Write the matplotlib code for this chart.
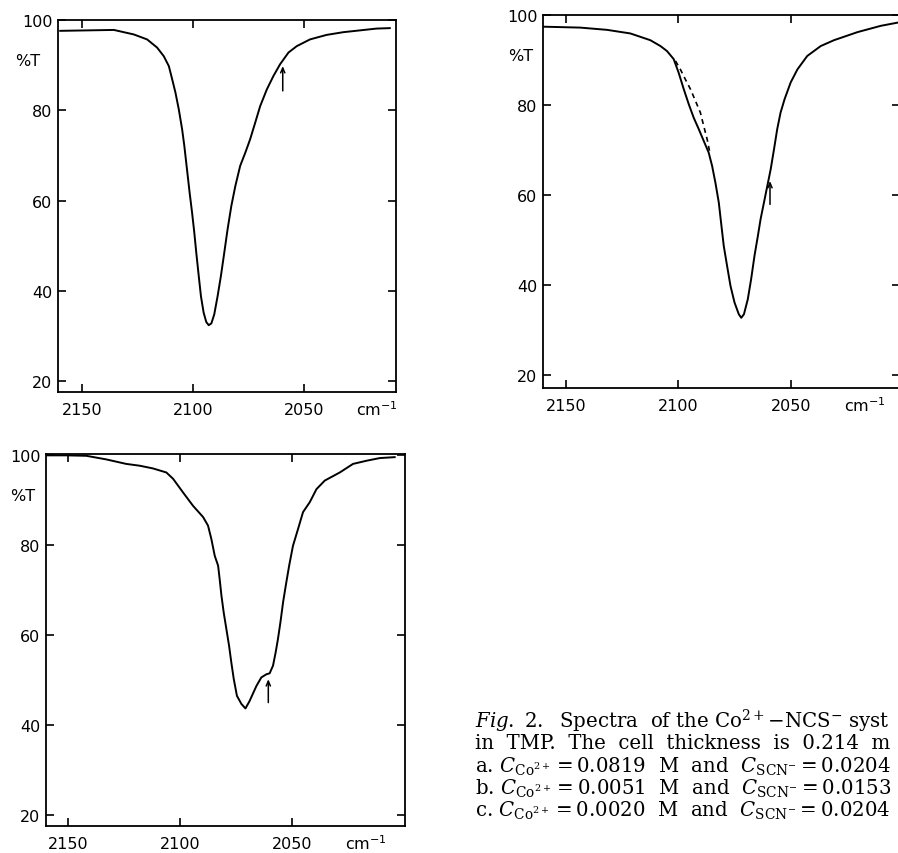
import matplotlib
matplotlib.use("Agg")
import matplotlib.pyplot as plt

# ---------------- data ----------------
xticks = [2150, 2100, 2050]
yticks = [20, 40, 60, 80, 100]

# spectrum a
wn_a = [2160.0, 2135.8, 2126.8, 2120.8, 2116.3, 2113.3, 2111.0, 2109.5, 2108.0, 2106.5,
        2105.0, 2104.0, 2102.8, 2101.6, 2100.5, 2099.5, 2098.6, 2097.5, 2096.5, 2095.3,
        2094.1, 2093.0, 2091.8, 2090.5, 2089.0, 2087.5, 2086.0, 2084.5, 2082.8, 2081.0,
        2078.8, 2076.5, 2074.3, 2072.0, 2069.8, 2066.8, 2063.8, 2060.8, 2057.0, 2053.3,
        2047.3, 2039.8, 2032.3, 2024.8, 2017.3, 2011.3]
t_a = [97.6, 97.8, 96.8, 95.7, 93.9, 92.0, 89.8, 86.9, 83.9, 80.2,
       75.8, 72.1, 66.9, 61.7, 57.3, 52.9, 48.4, 43.3, 38.8, 35.2,
       33.1, 32.4, 32.8, 34.8, 38.8, 43.3, 48.4, 53.6, 58.8, 63.2,
       67.7, 70.6, 73.6, 77.3, 80.9, 84.6, 87.6, 90.2, 92.8, 94.2,
       95.7, 96.7, 97.3, 97.7, 98.1, 98.2]
arrow_a = (2059.6, 84.3, 89.8)

# spectrum b
wn_b = [2160.1, 2143.75, 2131.8, 2121.4, 2112.5, 2108.0, 2105.1, 2102.1, 2099.9, 2097.6,
        2095.4, 2093.2, 2090.9, 2088.7, 2086.5, 2085.0, 2083.5, 2082.0, 2081.0, 2079.8,
        2078.3, 2076.8, 2075.0, 2073.1, 2072.0, 2070.8, 2069.1, 2067.6, 2066.1, 2064.6,
        2063.4, 2061.9, 2060.4, 2058.9, 2057.4, 2056.0, 2054.5, 2052.7, 2050.0, 2047.0,
        2042.6, 2036.6, 2030.7, 2020.2, 2009.8, 2002.4]
t_b = [97.4, 97.2, 96.7, 95.9, 94.4, 93.1, 92.0, 90.2, 87.2, 83.5,
       80.2, 77.2, 74.6, 72.0, 69.4, 66.5, 62.7, 58.3, 53.9, 48.7,
       44.2, 39.8, 36.1, 33.5, 32.7, 33.5, 36.8, 41.3, 46.5, 50.9,
       54.6, 58.3, 62.0, 65.7, 70.2, 74.6, 78.3, 81.3, 85.0, 87.9,
       90.9, 93.1, 94.4, 96.2, 97.6, 98.3]
wn_b_dash = [2101.3, 2099.1, 2096.9, 2094.6, 2092.4, 2090.2, 2088.7, 2087.2, 2086.0]
t_b_dash = [89.8, 87.9, 85.7, 83.5, 80.9, 78.3, 75.3, 72.4, 69.4]
arrow_b = (2059.2, 57.9, 63.1)

# spectrum c
wn_c = [2159.7, 2150.7, 2141.8, 2132.9, 2124.0, 2118.0, 2112.1, 2106.1, 2103.1, 2098.7,
        2094.2, 2089.7, 2087.5, 2086.0, 2084.5, 2083.0, 2082.3, 2081.5, 2080.5, 2079.3,
        2078.1, 2077.1, 2076.0, 2074.6, 2072.6, 2070.8, 2069.0, 2065.9, 2063.7, 2061.4,
        2060.0, 2058.5, 2057.3, 2056.3, 2055.2, 2054.0, 2052.8, 2051.3, 2049.6, 2047.3,
        2045.1, 2042.1, 2039.1, 2035.4, 2028.7, 2022.8, 2016.8, 2010.8, 2004.2]
t_c = [99.9, 99.9, 99.8, 99.0, 98.0, 97.6, 97.0, 96.1, 94.7, 91.7,
       88.7, 86.2, 84.3, 81.3, 77.6, 75.4, 72.4, 68.7, 65.0, 61.3,
       57.6, 53.9, 50.2, 46.5, 44.7, 43.7, 45.3, 48.7, 50.6, 51.3,
       51.5, 53.2, 56.2, 59.1, 62.8, 67.3, 71.0, 75.4, 79.8, 83.6,
       87.3, 89.5, 92.4, 94.3, 96.1, 98.0, 98.7, 99.3, 99.5]
arrow_c = (2060.6, 45.0, 50.2)

caption_lines = [
    r"$\mathit{Fig.\ 2.}$  Spectra  of the Co$^{2+}$$-$NCS$^{-}$ syst",
    r"in  TMP.  The  cell  thickness  is  0.214  m",
    r"a. $C_{\mathrm{Co}^{2+}}$$=$0.0819  M  and  $C_{\mathrm{SCN}^{-}}$$=$0.0204",
    r"b. $C_{\mathrm{Co}^{2+}}$$=$0.0051  M  and  $C_{\mathrm{SCN}^{-}}$$=$0.0153",
    r"c. $C_{\mathrm{Co}^{2+}}$$=$0.0020  M  and  $C_{\mathrm{SCN}^{-}}$$=$0.0204",
]

# ---------------- figure ----------------
W, H = 898, 854
fig = plt.figure(figsize=(W / 100, H / 100), dpi=100)
plt.rcParams["mathtext.fontset"] = "dejavuserif"


def px_axes(left, top, right, bottom):
    return fig.add_axes([left / W, 1 - bottom / H, (right - left) / W, (bottom - top) / H])


def style(ax, xlim, ylim, pt_gap, pt_y):
    ax.set_xlim(*xlim)
    ax.set_ylim(*ylim)
    ax.set_xticks(xticks)
    ax.set_yticks(yticks)
    ax.set_xticklabels([str(v) for v in xticks])
    ax.set_yticklabels([str(v) for v in yticks])
    for s in ax.spines.values():
        s.set_linewidth(1.3)
    ax.tick_params(axis="both", direction="in", length=5.5, width=1.2,
                   labelsize=11.5, top=True, right=True, colors="black")
    ax.tick_params(axis="x", pad=7)
    ax.tick_params(axis="y", pad=4)
    ax.annotate("%T", xy=(0, pt_y), xycoords=("axes fraction", "data"),
                xytext=(-pt_gap, 0), textcoords="offset points",
                ha="right", va="center", fontsize=11.5)
    ax.annotate(r"cm$^{-1}$", xy=(2017, 0), xycoords=("data", "axes fraction"),
                xytext=(0, -5.5), textcoords="offset points",
                ha="center", va="top", fontsize=11.5,
                math_fontfamily="dejavusans")


def arrow(ax, a):
    x, y0, y1 = a
    ax.annotate("", xy=(x, y1), xytext=(x, y0),
                arrowprops=dict(arrowstyle="->,head_length=0.35,head_width=0.15",
                                lw=1.1, color="black", shrinkA=0, shrinkB=0))


# panel a
ax1 = px_axes(58, 21, 396, 393)
ax1.plot(wn_a, t_a, color="black", lw=1.4)
arrow(ax1, arrow_a)
style(ax1, (2161, 2008.5), (17.6, 100), 13, 91)

# panel b
ax2 = px_axes(543, 16, 900, 389)
ax2.plot(wn_b, t_b, color="black", lw=1.4)
ax2.plot(wn_b_dash, t_b_dash, color="black", lw=1.2, ls=(0, (3, 2.5)))
arrow(ax2, arrow_b)
style(ax2, (2160.3, 2001.3), (17.1, 100), 7, 91)

# panel c
ax3 = px_axes(46, 455, 405, 827)
ax3.plot(wn_c, t_c, color="black", lw=1.4)
arrow(ax3, arrow_c)
style(ax3, (2159.8, 1999.6), (17.6, 100.2), 8, 91)

# caption
ys = [721, 744, 767, 789, 811]
for line, y in zip(caption_lines, ys):
    fig.text(475 / W, 1 - y / H, line, ha="left", va="center",
             fontsize=14.2, family="DejaVu Serif")

fig.savefig("out.png", dpi=100)
